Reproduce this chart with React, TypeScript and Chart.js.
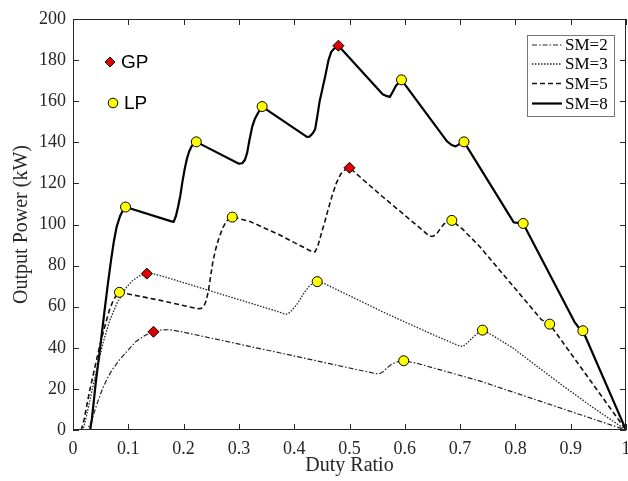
import React, { useEffect, useRef } from "react";
import { Chart, registerables } from "chart.js";

Chart.register(...registerables);

// ---- data (Duty Ratio, Output Power kW) ----
const seriesLabels = ["SM=2", "SM=3", "SM=5", "SM=8"];

const sm2: [number, number][] = [
  [0, 0], [0.026, 0], [0.031, 3], [0.036, 6.5], [0.045, 14], [0.054, 20.5], [0.062, 25],
  [0.07, 29], [0.084, 34.1], [0.1, 39], [0.114, 43.1], [0.13, 46], [0.1456, 47.8],
  [0.16, 48.7], [0.175, 48.8], [0.2, 47.6], [0.319, 40.7], [0.373, 37.6], [0.546, 27.5],
  [0.554, 27.4], [0.56, 28.2], [0.567, 30], [0.575, 31.8], [0.585, 33.1], [0.598, 33.7],
  [0.62, 32.6], [0.735, 23.9], [0.8195, 16.3], [1, 0],
];

const sm3: [number, number][] = [
  [0, 0], [0.018, 0], [0.022, 4], [0.027, 10], [0.035, 20], [0.045, 32], [0.055, 43],
  [0.066, 53], [0.08, 62], [0.096, 69.2], [0.107, 72.5], [0.12, 75], [0.1335, 76],
  [0.145, 76], [0.16, 75], [0.3734, 57.4], [0.381, 56.6], [0.3855, 56.4], [0.39, 56.8],
  [0.395, 58], [0.4, 59.6], [0.405, 61.2], [0.412, 64.2], [0.42, 67.6], [0.428, 70.2],
  [0.435, 71.6], [0.4416, 72.2], [0.455, 71.2], [0.56, 57.5], [0.65, 46.5], [0.698, 41],
  [0.705, 40.6], [0.71, 41.6], [0.716, 43.2], [0.722, 44.8], [0.729, 46.4], [0.735, 47.8],
  [0.7405, 48.6], [0.755, 46.6], [0.795, 40], [0.84, 30.8], [0.886, 21.5], [0.94, 11], [1, 0],
];

const sm5: [number, number][] = [
  [0, 0], [0.015, 0], [0.02, 5], [0.025, 12], [0.03, 19], [0.04, 31], [0.048, 40.6],
  [0.058, 51], [0.066, 58.5], [0.072, 62.5], [0.078, 65.5], [0.084, 67], [0.156, 63.2],
  [0.226, 59], [0.232, 59.2], [0.237, 60.5], [0.241, 63], [0.245, 68], [0.249, 75],
  [0.253, 82], [0.258, 88], [0.264, 93.5], [0.271, 98.5], [0.278, 101.8], [0.288, 103.6],
  [0.32, 101.5], [0.373, 95], [0.434, 86.5], [0.438, 86.8], [0.442, 89], [0.446, 92.5],
  [0.45, 96.5], [0.455, 101], [0.461, 107], [0.468, 113.5], [0.476, 120], [0.484, 124.5],
  [0.492, 126.6], [0.5, 127.6], [0.56, 113.5], [0.645, 94.3], [0.651, 94.3], [0.657, 95.2],
  [0.663, 97.5], [0.67, 100], [0.677, 101.5], [0.685, 102], [0.705, 97.6], [0.735, 89.4],
  [0.847, 53.7], [0.862, 51.5], [1, 0],
];

const sm8: [number, number][] = [
  [0, 0], [0.031, 0], [0.034, 5], [0.038, 15], [0.042, 25], [0.048, 37.5], [0.057, 58],
  [0.063, 71], [0.069, 83], [0.074, 92], [0.079, 99], [0.085, 104], [0.09, 106.8],
  [0.095, 108.5], [0.178, 101.5], [0.182, 101.3], [0.186, 104], [0.19, 108.5], [0.194, 114],
  [0.198, 121], [0.202, 127], [0.206, 132], [0.21, 135.5], [0.215, 138.3], [0.223, 140.2],
  [0.3, 129.6], [0.306, 129.8], [0.311, 131.5], [0.315, 135], [0.319, 141], [0.324, 147.5],
  [0.329, 151.5], [0.335, 154.5], [0.342, 157.4], [0.423, 142.6], [0.428, 142.8],
  [0.434, 144.5], [0.438, 146.5], [0.442, 153], [0.446, 160], [0.451, 166], [0.456, 172],
  [0.462, 180], [0.467, 184], [0.472, 185.5], [0.48, 187], [0.56, 163.4], [0.566, 162.6],
  [0.573, 162.1], [0.578, 164.5], [0.584, 167.5], [0.594, 170.4], [0.676, 140.6],
  [0.684, 138.8], [0.692, 138], [0.698, 139], [0.707, 140.2], [0.797, 101], [0.814, 100.5],
  [0.907, 52.5], [0.914, 50], [0.922, 48.3], [1, 0],
];

const gpPoints: [number, number][] = [
  [0.1456, 47.8], [0.1335, 76.1], [0.5, 127.6], [0.48, 187],
];

const lpPoints: [number, number][] = [
  [0.095, 108.5], [0.223, 140.2], [0.342, 157.4], [0.594, 170.4], [0.707, 140.2],
  [0.814, 100.5], [0.922, 48.3], [0.084, 67], [0.288, 103.6], [0.685, 102],
  [0.862, 51.5], [0.4416, 72.2], [0.7405, 48.6], [0.598, 33.7],
];

const markerLabels = ["GP", "LP"];

const toXY = (arr: [number, number][]) => arr.map(([x, y]) => ({ x, y }));

const AXIS_COLOR = "#262626";
const SERIF = "'Liberation Serif', 'Times New Roman', serif";
const SANS = "'Liberation Sans', Arial, sans-serif";

const lineStyles = [
  { dash: [5, 2, 1.5, 2], width: 1.2, color: "#222" },
  { dash: [1.5, 1.5], width: 1.3, color: "#222" },
  { dash: [5, 3], width: 1.6, color: "#111" },
  { dash: [], width: 2.2, color: "#000" },
];

const boxPlugin = {
  id: "boxPlugin",
  afterDraw(chart: any) {
    const { ctx, chartArea: a, scales } = chart;
    const xs = scales.x;
    const ys = scales.y;
    ctx.save();
    ctx.strokeStyle = AXIS_COLOR;
    ctx.lineWidth = 1;
    ctx.setLineDash([]);
    ctx.strokeRect(a.left + 0.5, a.top + 0.5, a.right - a.left - 1, a.bottom - a.top - 1);
    const tl = 6;
    ctx.beginPath();
    for (let i = 0; i <= 10; i++) {
      const px = Math.round(xs.getPixelForValue(i / 10)) + 0.5;
      ctx.moveTo(px, a.bottom);
      ctx.lineTo(px, a.bottom - tl);
      ctx.moveTo(px, a.top);
      ctx.lineTo(px, a.top + tl);
    }
    for (let v = 0; v <= 200; v += 20) {
      const py = Math.round(ys.getPixelForValue(v)) + 0.5;
      ctx.moveTo(a.left, py);
      ctx.lineTo(a.left + tl, py);
      ctx.moveTo(a.right, py);
      ctx.lineTo(a.right - tl, py);
    }
    ctx.stroke();

    // legend box (top right)
    const lx = 527, ly = 35, lw = 87, lh = 81;
    ctx.fillStyle = "#fff";
    ctx.fillRect(lx, ly, lw, lh);
    ctx.strokeStyle = "#777";
    ctx.strokeRect(lx + 0.5, ly + 0.5, lw, lh);
    const rows = [45, 64, 83.5, 103.5];
    ctx.font = `17px ${SERIF}`;
    ctx.textBaseline = "middle";
    ctx.textAlign = "left";
    seriesLabels.forEach((lab, i) => {
      const st = lineStyles[i];
      ctx.beginPath();
      ctx.setLineDash(st.dash);
      ctx.lineWidth = st.width;
      ctx.strokeStyle = st.color;
      ctx.moveTo(532, rows[i]);
      ctx.lineTo(562, rows[i]);
      ctx.stroke();
      ctx.setLineDash([]);
      ctx.fillStyle = "#000";
      ctx.fillText(lab, 565, rows[i] + 1);
    });

    // GP / LP annotation
    ctx.setLineDash([]);
    ctx.lineWidth = 1;
    ctx.strokeStyle = "#000";
    const dx = 110, dy = 62, r = 5;
    ctx.beginPath();
    ctx.moveTo(dx, dy - r);
    ctx.lineTo(dx + r, dy);
    ctx.lineTo(dx, dy + r);
    ctx.lineTo(dx - r, dy);
    ctx.closePath();
    ctx.fillStyle = "#e00000";
    ctx.fill();
    ctx.stroke();
    ctx.beginPath();
    ctx.arc(113, 103, 4.8, 0, Math.PI * 2);
    ctx.fillStyle = "#ffff00";
    ctx.fill();
    ctx.stroke();
    ctx.font = `19px ${SANS}`;
    ctx.fillStyle = "#000";
    ctx.textBaseline = "middle";
    ctx.fillText(markerLabels[0], 121, 63);
    ctx.fillText(markerLabels[1], 124, 104);
    ctx.restore();
  },
};

export default function App() {
  const canvasRef = useRef<HTMLCanvasElement | null>(null);

  useEffect(() => {
    document.body.style.margin = "0";
    const canvas = canvasRef.current;
    if (!canvas) return;
    const seriesData = [sm2, sm3, sm5, sm8];
    const lineSets = seriesData.map((d, i) => ({
      type: "line" as const,
      label: seriesLabels[i],
      data: toXY(d),
      borderColor: lineStyles[i].color,
      borderWidth: lineStyles[i].width,
      borderDash: lineStyles[i].dash,
      borderJoinStyle: "round" as const,
      pointRadius: 0,
      fill: false,
      tension: 0,
    }));
    const chart = new Chart(canvas, {
      type: "line",
      data: {
        datasets: [
          {
            type: "scatter",
            label: markerLabels[0],
            data: toXY(gpPoints),
            pointStyle: "rectRot",
            pointRadius: 5.5,
            backgroundColor: "#e00000",
            borderColor: "#000",
            borderWidth: 1,
            showLine: false,
          } as any,
          {
            type: "scatter",
            label: markerLabels[1],
            data: toXY(lpPoints),
            pointStyle: "circle",
            pointRadius: 5,
            backgroundColor: "#ffff00",
            borderColor: "#000",
            borderWidth: 1,
            showLine: false,
          } as any,
          ...lineSets,
        ],
      },
      options: {
        responsive: false,
        animation: false,
        layout: { autoPadding: false, padding: { left: 0, right: 2, top: 19, bottom: 0 } },
        plugins: { legend: { display: false }, tooltip: { enabled: false } },
        scales: {
          x: {
            type: "linear",
            min: 0,
            max: 1,
            border: { display: false },
            grid: { display: false, drawTicks: false },
            ticks: {
              stepSize: 0.1,
              color: AXIS_COLOR,
              padding: 8,
              maxRotation: 0,
              font: { family: SERIF, size: 18 },
              callback: (v: any) => String(Number(Number(v).toFixed(1))),
            },
            title: {
              display: true,
              text: "Duty Ratio",
              color: AXIS_COLOR,
              font: { family: SERIF, size: 20 },
              padding: { top: 0, bottom: 3 },
            },
            afterFit: (s: any) => {
              s.height = 51;
              s.paddingLeft = 0;
              s.paddingRight = 0;
            },
          },
          y: {
            type: "linear",
            min: 0,
            max: 200,
            border: { display: false },
            grid: { display: false, drawTicks: false },
            ticks: {
              stepSize: 20,
              color: AXIS_COLOR,
              padding: 7,
              font: { family: SERIF, size: 18 },
            },
            title: {
              display: true,
              text: "Output Power (kW)",
              color: AXIS_COLOR,
              font: { family: SERIF, size: 20 },
              padding: { top: 10, bottom: 0 },
            },
            afterFit: (s: any) => {
              s.width = 73;
              s.paddingTop = 0;
              s.paddingBottom = 0;
            },
          },
        },
      } as any,
      plugins: [boxPlugin],
    });
    return () => chart.destroy();
  }, []);

  return (
    <div style={{ position: "absolute", left: 0, top: 0, width: 628, height: 481, background: "#fff" }}>
      <canvas ref={canvasRef} width={628} height={481} />
    </div>
  );
}
